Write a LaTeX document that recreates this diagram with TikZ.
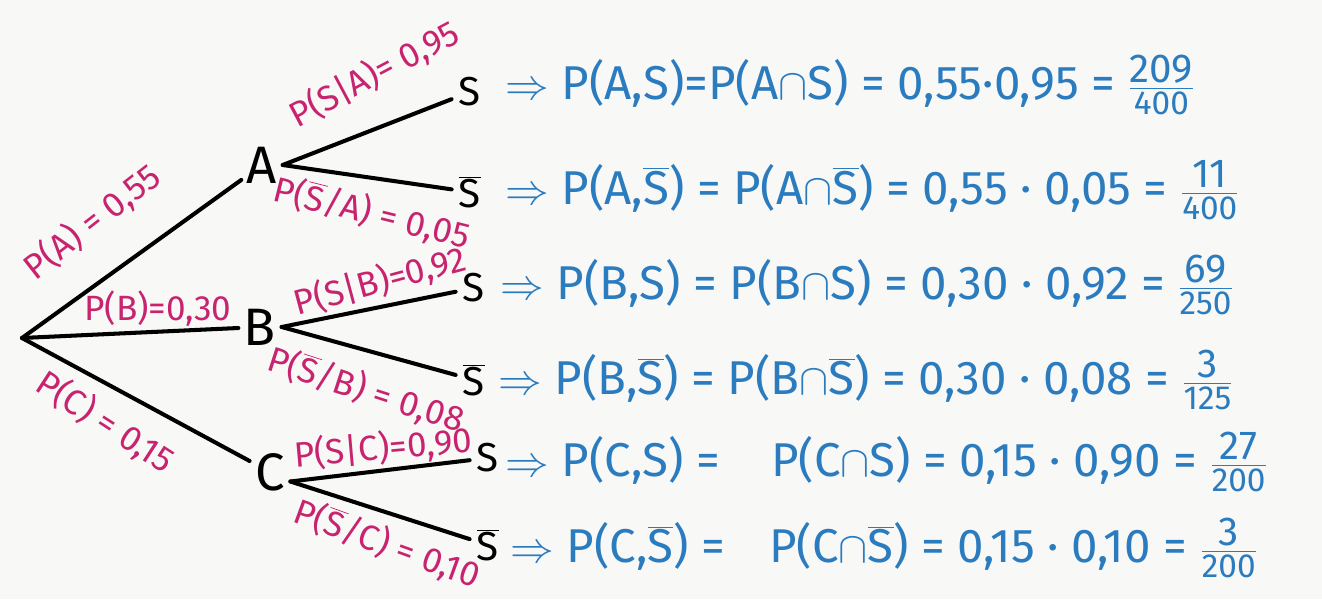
\documentclass[tikz,border=0pt]{standalone}
\usepackage{fontspec}
\setmainfont{Fira Sans}
\usetikzlibrary{positioning}
\definecolor{probred}{HTML}{C8236E}
\definecolor{eqblue}{HTML}{2B7BBF}
\definecolor{paper}{HTML}{F8F8F7}
\newcommand\Sbar{$\overline{\mbox{S}}$}
\newcommand\frc[2]{$\frac{\mbox{\fontsize{23}{23}\selectfont #1}}{\mbox{\fontsize{19}{19}\selectfont #2}}$}
\tikzset{
  edge/.style={line width=2.3pt, line cap=round},
  event/.style={font=\fontsize{30}{30}\selectfont, inner sep=3pt},
  leaf/.style={font=\fontsize{23}{23}\selectfont, inner sep=4pt},
  prob/.style={text=probred, font=\fontsize{20}{20}\selectfont, inner sep=0pt},
  eq/.style={text=eqblue, font=\fontsize{27}{30}\selectfont, anchor=west, inner sep=0pt}
}
\begin{document}
\begin{tikzpicture}[x=0.02cm, y=-0.02cm]
  \fill[paper] (0,0) rectangle (1322,599);
  \useasboundingbox (0,0) rectangle (1322,599);
  % first stage
  \coordinate (root) at (22,338);
  \foreach \n/\x/\y in {A/262/165, B/260/327, C/270/472} {
    \node[event] (\n) at (\x,\y) {\n};
    \draw[edge] (root) -- (\n);
  }
  % second stage
  \foreach \n/\p/\a/\x/\y/\s in {AS/A/east/470/92/S, ASb/A/east/470/192/\Sbar,
      BS/B/east/474/288/S, BSb/B/east/474/380/\Sbar,
      CS/C/-25/488/458/S, CSb/C/-25/488/545/\Sbar} {
    \node[leaf] (\n) at (\x,\y) {\s};
    \draw[edge] (\p.\a) -- (\n);
  }
  % branch probabilities
  \node[prob, rotate=38] (pA) at (92,222) {P(A) = 0,55};
  \node[prob] (pB) at (158,309) {P(B)=0,30};
  \node[prob, rotate=-33] (pC) at (105,422) {P(C) = 0,15};
  \node[prob, rotate=28] (pSA) at (374,74) {P(S|A)= 0,95};
  \node[prob, rotate=-14] (pSbA) at (372,213) {P(\Sbar/A) = 0,05};
  \node[prob, rotate=15] (pSB) at (380,281) {P(S|B)=0,92};
  \node[prob, rotate=-18] (pSbB) at (366,390) {P(\Sbar/B) = 0,08};
  \node[prob, rotate=5] (pSC) at (383,448) {P(S|C)=0,90};
  \node[prob, rotate=-20] (pSbC) at (387,544) {P(\Sbar/C) = 0,10};
  % joint probabilities
  \node[eq] (eqAS) at (505,85) {$\Rightarrow$ P(A,S)=P(A$\cap$S) = 0,55·0,95 = \frc{209}{400}};
  \node[eq] (eqASb) at (505,190) {$\Rightarrow$ P(A,\Sbar) = P(A$\cap$\Sbar) = 0,55 · 0,05 = \frc{11}{400}};
  \node[eq] (eqBS) at (500,285) {$\Rightarrow$ P(B,S) = P(B$\cap$S) = 0,30 · 0,92 = \frc{69}{250}};
  \node[eq] (eqBSb) at (498,380) {$\Rightarrow$ P(B,\Sbar) = P(B$\cap$\Sbar) = 0,30 · 0,08 = \frc{3}{125}};
  \node[eq] (eqCS) at (505,462) {$\Rightarrow$ P(C,S) =\hspace{22pt} P(C$\cap$S) = 0,15 · 0,90 = \frc{27}{200}};
  \node[eq] (eqCSb) at (510,548) {$\Rightarrow$ P(C,\Sbar) =\hspace{18pt} P(C$\cap$\Sbar) = 0,15 · 0,10 = \frc{3}{200}};
\end{tikzpicture}
\end{document}
